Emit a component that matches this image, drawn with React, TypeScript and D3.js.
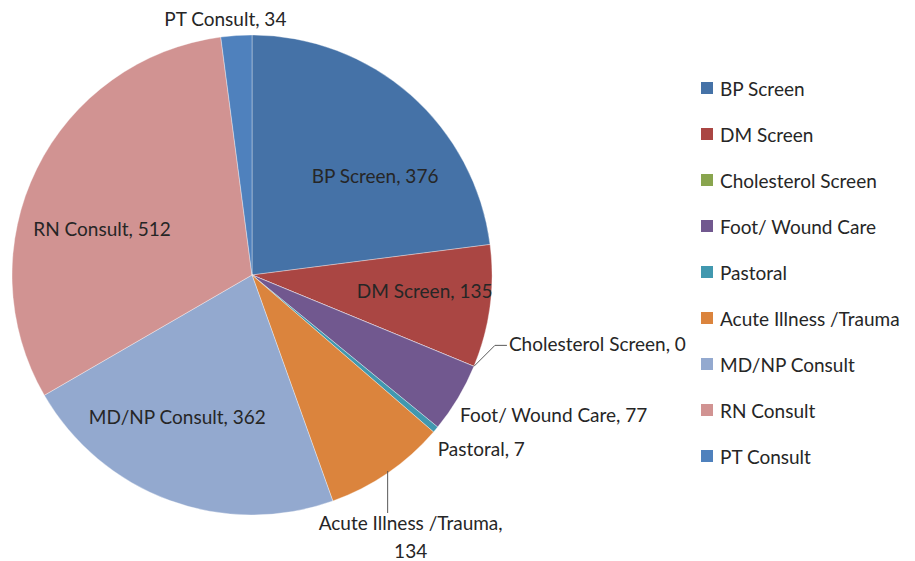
import React, { useEffect, useRef } from "react"
import * as d3 from "d3"

const categories = [
  "BP Screen",
  "DM Screen",
  "Cholesterol Screen",
  "Foot/ Wound Care",
  "Pastoral",
  "Acute Illness /Trauma",
  "MD/NP Consult",
  "RN Consult",
  "PT Consult",
]
const counts = [376, 135, 0, 77, 7, 134, 362, 512, 34]
const colors = [
  "#4572a7",
  "#aa4643",
  "#89a54e",
  "#71588f",
  "#4198af",
  "#db843d",
  "#93a9cf",
  "#d19392",
  "#4f81bd",
]

// label placement: radius factor for anchor, offset and text anchor
const labelPlace = [
  { k: 0.65, dx: 20, dy: 18, anchor: "middle" },
  { k: 0.65, dx: 18, dy: -5, anchor: "middle" },
  { k: 1, dx: 35, dy: -23, anchor: "start" },
  { k: 1, dx: 2, dy: 16, anchor: "start" },
  { k: 1, dx: 2, dy: 19, anchor: "start" },
  { k: 1, dx: 23, dy: 49, anchor: "middle" },
  { k: 0.65, dx: -21, dy: -5, anchor: "middle" },
  { k: 0.65, dx: -10, dy: 22, anchor: "middle" },
  { k: 1, dx: -11, dy: -17, anchor: "middle" },
]

const FONT = "Lato, 'Liberation Sans', sans-serif"
const FS = 19

export default function App() {
  const ref = useRef<SVGSVGElement>(null)

  useEffect(() => {
    const svg = d3.select(ref.current)
    svg.selectAll("*").remove()

    const cx = 252
    const cy = 275
    const r = 240

    const pie = d3.pie<number>().sort(null).value(d => d)
    const arcs = pie(counts)
    const arc = d3.arc<d3.PieArcDatum<number>>().innerRadius(0).outerRadius(r)

    const g = svg.append("g").attr("transform", `translate(${cx},${cy})`)

    g.selectAll("path")
      .data(arcs)
      .enter()
      .append("path")
      .attr("d", arc)
      .attr("fill", (d, i) => colors[i])
      .attr("stroke", "rgba(255,255,255,0.5)")
      .attr("stroke-width", 0.7)

    // anchor point on arc at given radius
    const pt = (d, k) => {
      const a = (d.startAngle + d.endAngle) / 2
      return [Math.sin(a) * r * k, -Math.cos(a) * r * k]
    }

    // leader lines
    const chol = arcs[2]
    const cp = pt(chol, 1)
    g.append("path")
      .attr("d", `M${cp[0]},${cp[1]} L${cp[0] + 21},${cp[1] - 21} L${cp[0] + 33},${cp[1] - 21}`)
      .attr("fill", "none")
      .attr("stroke", "#595959")
      .attr("stroke-width", 1)
    const acute = arcs[5]
    const ap = pt(acute, 1)
    g.append("line")
      .attr("x1", ap[0])
      .attr("y1", ap[1] - 2)
      .attr("x2", ap[0])
      .attr("y2", ap[1] + 40)
      .attr("stroke", "#595959")
      .attr("stroke-width", 1)

    arcs.forEach((d, i) => {
      const p = labelPlace[i]
      const [x, y] = pt(d, p.k)
      const t = g
        .append("text")
        .attr("x", x + p.dx)
        .attr("y", y + p.dy)
        .attr("text-anchor", p.anchor)
        .attr("dominant-baseline", "central")
        .attr("font-family", FONT)
        .attr("font-size", FS)
        .attr("fill", "#262626")
      if (i === 5) {
        t.append("tspan").attr("x", x + p.dx).text(categories[i] + ",")
        t.append("tspan").attr("x", x + p.dx).attr("dy", 28).text(counts[i])
      } else {
        t.text(categories[i] + ", " + counts[i])
      }
    })

    const legend = svg
      .append("g")
      .selectAll("g")
      .data(categories)
      .enter()
      .append("g")
      .attr("transform", (d, i) => `translate(701,${88 + i * 46})`)
    legend
      .append("rect")
      .attr("x", 0)
      .attr("y", -6)
      .attr("width", 12)
      .attr("height", 12)
      .attr("fill", (d, i) => colors[i])
    legend
      .append("text")
      .attr("x", 19)
      .attr("y", 0)
      .attr("dominant-baseline", "central")
      .attr("font-family", FONT)
      .attr("font-size", FS)
      .attr("fill", "#262626")
      .text(d => d)
  }, [])

  return (
    <svg
      ref={ref}
      width={915}
      height={561}
      style={{ position: "absolute", left: 0, top: 0, background: "#fff" }}
    />
  )
}
